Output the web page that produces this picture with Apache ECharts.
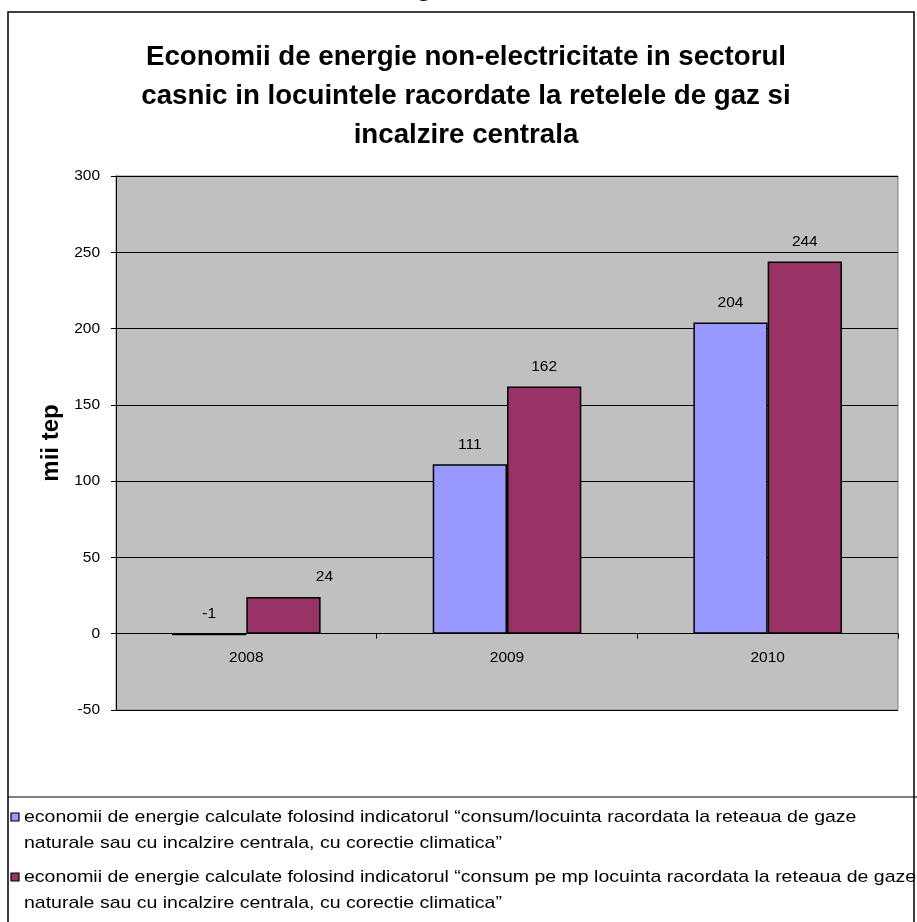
<!DOCTYPE html>
<html>
<head>
<meta charset="utf-8">
<script src="https://cdn.jsdelivr.net/npm/echarts@6/dist/echarts.min.js"></script>
<style>
html,body{margin:0;padding:0;background:#fff;}
#chart{width:917px;height:922px;}
</style>
</head>
<body>
<div id="chart"></div>
<script>
// ---- data ----
var categories = ['2008', '2009', '2010'];
var seriesNames = [
  'economii de energie calculate folosind indicatorul \u201cconsum/locuinta racordata la reteaua de gaze naturale sau cu incalzire centrala, cu corectie climatica\u201d',
  'economii de energie calculate folosind indicatorul \u201cconsum pe mp locuinta racordata la reteaua de gaze naturale sau cu incalzire centrala, cu corectie climatica\u201d'
];
var legendLines = [
  ['economii de energie calculate folosind indicatorul \u201cconsum/locuinta racordata la reteaua de gaze', 'naturale sau cu incalzire centrala, cu corectie climatica\u201d'],
  ['economii de energie calculate folosind indicatorul \u201cconsum pe mp locuinta racordata la reteaua de gaze', 'naturale sau cu incalzire centrala, cu corectie climatica\u201d']
];
var valuesPerLocuinta = [-1, 111, 204];
var valuesPerMp = [24, 162, 244];
var yTicks = [-50, 0, 50, 100, 150, 200, 250, 300];
var titleText = 'Economii de energie non-electricitate in sectorul\ncasnic in locuintele racordate la retelele de gaz si\nincalzire centrala';
var yAxisName = 'mii tep';

// ---- styling ----
var FONT = '"Liberation Sans", Arial, sans-serif';
var colors = ['#9999FF', '#993366'];
var labelOffsets = [[null, null, null], [[41, 0], null, null]];
var GRID = {left: 116, top: 176, width: 782, height: 534};
var yMin = yTicks[0], yMax = yTicks[yTicks.length - 1];
// x axis sits on the zero line
var xAxisOffset = -GRID.height * (0 - yMin) / (yMax - yMin);

var chart = echarts.init(document.getElementById('chart'), null, {renderer: 'canvas'});

function makeSeries(idx, values) {
  return {
    name: seriesNames[idx],
    type: 'bar',
    barGap: '0%',
    barCategoryGap: '43%',
    data: values.map(function (v, i) {
      var d = {value: v};
      if (labelOffsets[idx][i]) d.label = {offset: labelOffsets[idx][i]};
      return d;
    }),
    itemStyle: {color: colors[idx], borderColor: '#000', borderWidth: 1.5},
    label: {
      show: true, position: 'top', distance: 12,
      color: '#000', fontSize: 15.5, fontFamily: FONT
    }
  };
}

var graphics = [
  {type: 'rect', shape: {x: 8, y: 12, width: 906, height: 930}, style: {fill: 'none', stroke: '#000', lineWidth: 1.5}, z: 100},
  {type: 'line', shape: {x1: 8, y1: 797, x2: 917, y2: 797}, style: {stroke: '#000', lineWidth: 1}, z: 100},
  {type: 'text', x: 424, y: -13, style: {text: 'g', fill: '#000', font: 'bold 28px ' + FONT, align: 'center', verticalAlign: 'middle'}, z: 100}
];
var legendY = [817, 877];
legendLines.forEach(function (lines, i) {
  graphics.push({type: 'rect', shape: {x: 11, y: legendY[i] - 4, width: 8, height: 8}, style: {fill: colors[i], stroke: '#000', lineWidth: 1.2}, z: 100});
  lines.forEach(function (t, j) {
    graphics.push({type: 'text', x: 24, y: legendY[i] + j * 26, scaleX: 1.147, style: {text: t, fill: '#000', font: '17px ' + FONT, align: 'left', verticalAlign: 'middle'}, z: 100});
  });
});

var option = {
  backgroundColor: '#fff',
  animation: false,
  title: {
    text: titleText,
    left: 461, top: 33, textAlign: 'center',
    textStyle: {fontFamily: FONT, fontWeight: 'bold', fontSize: 27.7, lineHeight: 39, color: '#000'}
  },
  grid: {
    left: GRID.left, top: GRID.top, width: GRID.width, height: GRID.height,
    show: true, backgroundColor: '#C0C0C0', borderColor: '#808080', borderWidth: 1
  },
  xAxis: {
    type: 'category', data: categories,
    position: 'bottom', offset: xAxisOffset,
    axisLine: {show: true, onZero: false, lineStyle: {color: '#000', width: 1}},
    axisTick: {show: true, length: 5, lineStyle: {color: '#000'}},
    axisLabel: {color: '#000', fontSize: 15.5, fontFamily: FONT, margin: 16},
    splitLine: {show: false}
  },
  yAxis: {
    type: 'value', min: yMin, max: yMax, interval: yTicks[1] - yTicks[0],
    name: yAxisName, nameLocation: 'middle', nameRotate: 90, nameGap: 53,
    nameTextStyle: {fontFamily: FONT, fontWeight: 'bold', fontSize: 24, color: '#000'},
    axisLine: {show: true, lineStyle: {color: '#000', width: 1}},
    axisTick: {show: true, length: 5, lineStyle: {color: '#000'}},
    axisLabel: {color: '#000', fontSize: 15.5, fontFamily: FONT, margin: 16},
    splitLine: {show: true, lineStyle: {color: '#000', width: 1}}
  },
  series: [makeSeries(0, valuesPerLocuinta), makeSeries(1, valuesPerMp)],
  graphic: graphics
};
chart.setOption(option);
</script>
</body>
</html>
